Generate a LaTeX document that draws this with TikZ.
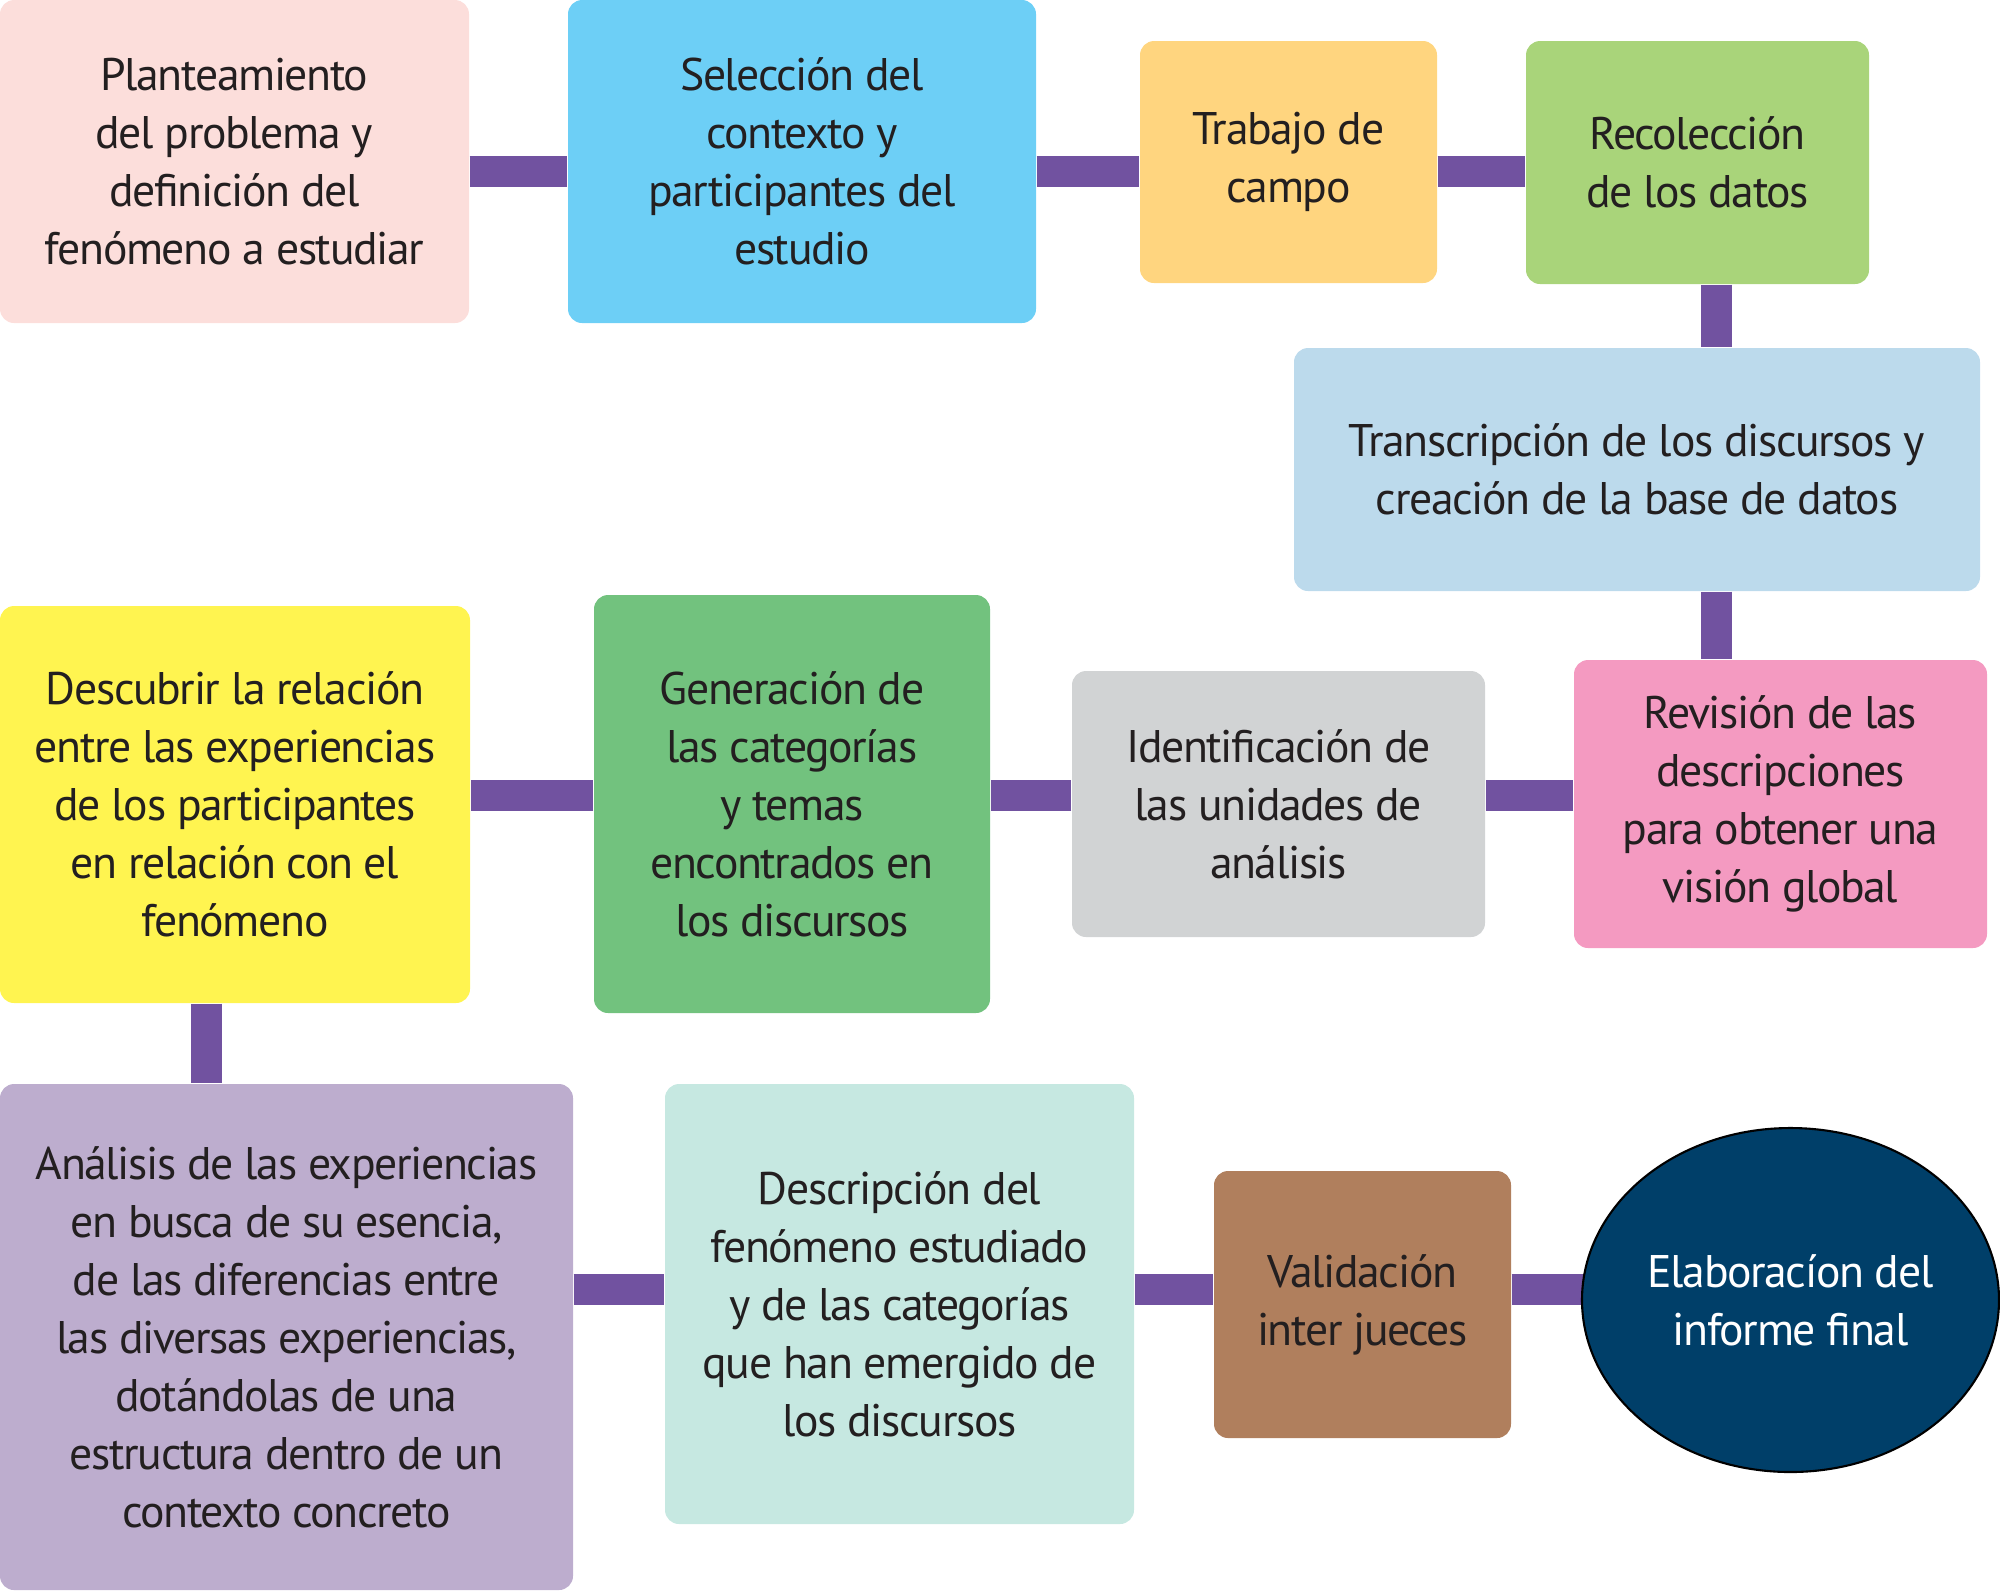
\documentclass[tikz,border=0pt]{standalone}
\usepackage{fontspec}
\setmainfont{PT Sans}[LetterSpace=-3]
\usetikzlibrary{shapes.geometric,backgrounds}
\definecolor{rosa}{HTML}{FCDEDB}
\definecolor{celeste}{HTML}{6DCFF6}
\definecolor{naranja}{HTML}{FFD57F}
\definecolor{verdeclaro}{HTML}{A9D47A}
\definecolor{azulclaro}{HTML}{BCDAEC}
\definecolor{rosafuerte}{HTML}{F49AC1}
\definecolor{gris}{HTML}{D1D3D4}
\definecolor{verde}{HTML}{72C27E}
\definecolor{amarillo}{HTML}{FFF450}
\definecolor{lila}{HTML}{BDADCE}
\definecolor{menta}{HTML}{C6E8E1}
\definecolor{marron}{HTML}{B07F5D}
\definecolor{marino}{HTML}{003F69}
\definecolor{morado}{HTML}{7152A0}
\definecolor{texto}{HTML}{231F20}

\begin{document}
\begin{tikzpicture}[
	caja/.style={rectangle,rounded corners=4pt,align=center,inner sep=0pt,text=texto,
		font=\fontsize{13}{16.5}\selectfont},
	enlace/.style={line width=0.31cm,draw=morado}
	]
	\useasboundingbox (0,0) rectangle (20,-15.92);
	\node[caja,fill=rosa,minimum width=4.69cm,minimum height=3.23cm] (plan) at (2.345,-1.615) {Planteamiento\\del problema y\\definición del\\fenómeno a estudiar};
	\node[caja,fill=celeste,minimum width=4.68cm,minimum height=3.23cm] (sel) at (8.02,-1.615) {Selección del\\contexto y\\participantes del\\estudio};
	\node[caja,fill=naranja,minimum width=2.97cm,minimum height=2.42cm] (campo) at (12.885,-1.62) {Trabajo de\\campo};
	\node[caja,fill=verdeclaro,minimum width=3.43cm,minimum height=2.43cm] (datos) at (16.975,-1.625) {Recolección\\de los datos};
	\node[caja,fill=azulclaro,minimum width=6.86cm,minimum height=2.43cm] (trans) at (16.37,-4.695) {Transcripción de los discursos y\\creación de la base de datos};
	\node[caja,fill=rosafuerte,minimum width=4.13cm,minimum height=2.88cm] (rev) at (17.805,-8.04) {Revisión de las\\descripciones\\para obtener una\\visión global};
	\node[caja,fill=gris,minimum width=4.13cm,minimum height=2.66cm] (ident) at (12.785,-8.04) {Identificación de\\las unidades de\\análisis};
	\node[caja,fill=verde,minimum width=3.96cm,minimum height=4.18cm] (gen) at (7.92,-8.04) {Generación de\\las categorías\\y temas\\encontrados en\\los discursos};
	\node[caja,fill=amarillo,minimum width=4.70cm,minimum height=3.97cm] (desc) at (2.35,-8.045) {Descubrir la relación\\entre las experiencias\\de los participantes\\en relación con el\\fenómeno};
	\node[caja,fill=lila,minimum width=5.73cm,minimum height=5.06cm] (anal) at (2.865,-13.37) {Análisis de las experiencias\\en busca de su esencia,\\de las diferencias entre\\las diversas experiencias,\\dotándolas de una\\estructura dentro de un\\contexto concreto};
	\node[caja,fill=menta,minimum width=4.69cm,minimum height=4.40cm] (fen) at (8.995,-13.04) {Descripción del\\fenómeno estudiado\\y de las categorías\\que han emergido de\\los discursos};
	\node[caja,fill=marron,minimum width=2.97cm,minimum height=2.67cm] (valid) at (13.625,-13.045) {Validación\\inter jueces};
	\node[ellipse,draw=black,line width=0.6pt,fill=marino,text=white,align=center,inner sep=0pt,
		font=\fontsize{13}{16.5}\selectfont,minimum width=4.17cm,minimum height=3.44cm] (inf) at (17.905,-13.0) {Elaboracíon del\\informe final};
	\coordinate (f1) at (0,-1.71);
	\coordinate (f2) at (0,-7.95);
	\coordinate (f3) at (0,-12.89);
	\coordinate (c1) at (17.16,0);
	\coordinate (c2) at (2.06,0);
	\begin{scope}[on background layer]
		\draw[enlace] (plan.east |- f1) -- (sel.west |- f1);
		\draw[enlace] (sel.east |- f1) -- (campo.west |- f1);
		\draw[enlace] (campo.east |- f1) -- (datos.west |- f1);
		\draw[enlace] (datos.south -| c1) -- (trans.north -| c1);
		\draw[enlace] (trans.south -| c1) -- (rev.north -| c1);
		\draw[enlace] (rev.west |- f2) -- (ident.east |- f2);
		\draw[enlace] (ident.west |- f2) -- (gen.east |- f2);
		\draw[enlace] (gen.west |- f2) -- (desc.east |- f2);
		\draw[enlace] (desc.south -| c2) -- (anal.north -| c2);
		\draw[enlace] (anal.east |- f3) -- (fen.west |- f3);
		\draw[enlace] (fen.east |- f3) -- (valid.west |- f3);
		\draw[enlace] (valid.east |- f3) -- (inf.center |- f3);
	\end{scope}
\end{tikzpicture}
\end{document}
